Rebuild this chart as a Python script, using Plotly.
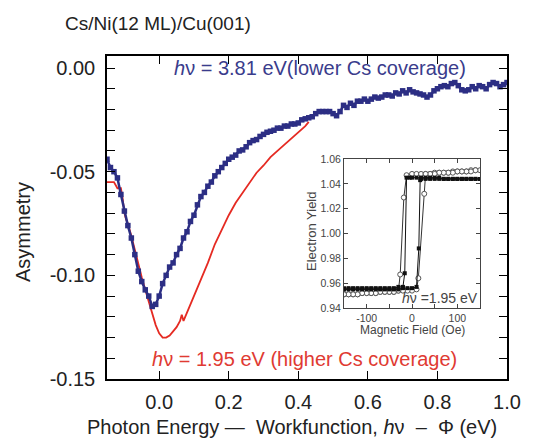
import plotly.graph_objects as go

# ---- main data ----
blue_x = [round(-0.15 + 0.01 * i, 2) for i in range(116)]
blue_y = [-0.044, -0.048, -0.050, -0.053, -0.061, -0.069, -0.076, -0.082, -0.090, -0.098,
          -0.103, -0.107, -0.110, -0.115, -0.114, -0.110, -0.104, -0.100, -0.096, -0.094,
          -0.090, -0.087, -0.082, -0.079, -0.074, -0.071, -0.066, -0.062, -0.060, -0.057,
          -0.055, -0.052, -0.050, -0.048, -0.046, -0.044, -0.043, -0.042, -0.040, -0.0395,
          -0.038, -0.036, -0.035, -0.0345, -0.033, -0.032, -0.031, -0.0305, -0.030, -0.029,
          -0.029, -0.028, -0.028, -0.027, -0.027, -0.0265, -0.025, -0.0245, -0.024, -0.0235,
          -0.022, -0.021, -0.021, -0.021, -0.021, -0.022, -0.023, -0.021, -0.018, -0.019,
          -0.017, -0.018, -0.016, -0.016, -0.015, -0.016, -0.015, -0.014, -0.0145, -0.014,
          -0.013, -0.013, -0.0135, -0.012, -0.0125, -0.011, -0.012, -0.0105, -0.0115, -0.012,
          -0.0125, -0.013, -0.014, -0.013, -0.011, -0.010, -0.009, -0.0085, -0.009, -0.0075,
          -0.007, -0.0085, -0.0105, -0.011, -0.0105, -0.009, -0.010, -0.0085, -0.009, -0.010,
          -0.008, -0.007, -0.0075, -0.009, -0.008, -0.007]

red_x = [-0.15, -0.13, -0.12, -0.11, -0.105, -0.10, -0.095, -0.09, -0.08, -0.07, -0.06,
         -0.05, -0.04, -0.03, -0.02, -0.01, 0.0, 0.01, 0.02, 0.03, 0.04, 0.05, 0.06, 0.065,
         0.07, 0.08, 0.09, 0.10, 0.12, 0.14, 0.16, 0.18, 0.20, 0.22, 0.24, 0.26, 0.28, 0.30,
         0.32, 0.34, 0.36, 0.38, 0.40, 0.42, 0.43]
red_y = [-0.055, -0.055, -0.058, -0.058, -0.063, -0.070, -0.073, -0.075, -0.081, -0.088, -0.095,
         -0.101, -0.107, -0.113, -0.119, -0.124, -0.128, -0.130, -0.130, -0.129, -0.127, -0.125,
         -0.122, -0.119, -0.122, -0.118, -0.114, -0.110, -0.102, -0.094, -0.085, -0.078, -0.071,
         -0.065, -0.060, -0.055, -0.0505, -0.047, -0.043, -0.040, -0.037, -0.034, -0.031,
         -0.028, -0.026]

y_tick_vals = [0.0, -0.05, -0.10, -0.15]
y_tick_text = ["0.00", "-0.05", "-0.10", "-0.15"]
x_tick_vals = [0.0, 0.2, 0.4, 0.6, 0.8, 1.0]
x_tick_text = ["0.0", "0.2", "0.4", "0.6", "0.8", "1.0"]

# ---- inset data ----
filled_x = [-150, -140, -130, -120, -110, -100, -90, -80, -70, -60, -50, -40, -30, -20, -16, -12,
            -5, 0, 10, 20, 30, 40, 50, 60, 70, 80, 90, 100, 110, 120, 130, 140, 150,
            140, 130, 120, 110, 100, 90, 80, 70, 60, 50, 40, 30, 20, 18, 15, 10,
            0, -10, -20, -30, -40, -50, -60, -70, -80, -90, -100, -110, -120, -130, -140, -150]
filled_y = [0.956, 0.956, 0.956, 0.956, 0.956, 0.956, 0.956, 0.956, 0.956, 0.956, 0.956, 0.956, 0.957, 0.957, 0.968, 1.045,
            1.045, 1.045, 1.045, 1.045, 1.045, 1.045, 1.045, 1.045, 1.044, 1.044, 1.044, 1.044, 1.044, 1.044, 1.044, 1.044, 1.044,
            1.044, 1.044, 1.044, 1.044, 1.044, 1.044, 1.044, 1.044, 1.044, 1.044, 1.044, 1.044, 1.044, 1.043, 0.988, 0.957,
            0.956, 0.956, 0.956, 0.955, 0.955, 0.955, 0.955, 0.955, 0.955, 0.955, 0.955, 0.955, 0.955, 0.955, 0.955, 0.955]

open_x = [-150, -140, -130, -120, -110, -100, -90, -80, -70, -60, -50, -40, -30, -26, -18, -12,
          0, 10, 20, 30, 40, 50, 60, 70, 80, 90, 100, 110, 120, 130, 140, 150,
          140, 130, 120, 110, 100, 90, 80, 70, 60, 50, 40, 30, 27, 14, 10,
          0, -10, -20, -30, -40, -50, -60, -70, -80, -90, -100, -110, -120, -130, -140, -150]
open_y = [0.951, 0.951, 0.951, 0.951, 0.952, 0.952, 0.952, 0.952, 0.953, 0.953, 0.953, 0.953, 0.954, 0.967, 1.029, 1.047,
          1.048, 1.048, 1.048, 1.048, 1.048, 1.049, 1.049, 1.049, 1.049, 1.050, 1.050, 1.050, 1.050, 1.051, 1.051, 1.051,
          1.051, 1.050, 1.050, 1.050, 1.050, 1.049, 1.049, 1.049, 1.049, 1.048, 1.048, 1.048, 1.032, 0.964, 0.955,
          0.954, 0.954, 0.954, 0.954, 0.953, 0.953, 0.953, 0.953, 0.952, 0.952, 0.952, 0.952, 0.951, 0.951, 0.951, 0.951]

inset_y_vals = [0.94, 0.96, 0.98, 1.00, 1.02, 1.04, 1.06]
inset_y_text = ["0.94", "0.96", "0.98", "1.00", "1.02", "1.04", "1.06"]
inset_x_vals = [-100, 0, 100]

FONT = "Liberation Sans, Arial, sans-serif"
BLUE = "#2c2e84"
RED = "#e52a22"

fig = go.Figure()

fig.add_trace(go.Scatter(x=red_x, y=red_y, mode="lines",
                         line=dict(color=RED, width=1.8), xaxis="x", yaxis="y"))
fig.add_trace(go.Scatter(x=blue_x, y=blue_y, mode="lines+markers",
                         line=dict(color=BLUE, width=2.5),
                         marker=dict(symbol="square", size=5.5, color=BLUE),
                         xaxis="x", yaxis="y"))

# inset traces
fig.add_trace(go.Scatter(x=open_x, y=open_y, mode="lines+markers",
                         line=dict(color="#333333", width=1),
                         marker=dict(symbol="circle", size=5, color="white",
                                     line=dict(width=1, color="#555555")),
                         xaxis="x2", yaxis="y2"))
fig.add_trace(go.Scatter(x=filled_x, y=filled_y, mode="lines+markers",
                         line=dict(color="#111111", width=1),
                         marker=dict(symbol="square", size=4, color="#111111"),
                         xaxis="x2", yaxis="y2"))

axis_common = dict(showline=True, linecolor="black", linewidth=1.5, mirror="ticks",
                   ticks="inside", ticklen=8, tickcolor="black", tickwidth=1.2,
                   showgrid=False, zeroline=False)

fig.update_layout(
    width=536, height=441,
    margin=dict(l=107, r=29, t=56, b=62),
    paper_bgcolor="white", plot_bgcolor="white",
    showlegend=False,
    font=dict(family=FONT, color="#222222"),
    xaxis=dict(range=[-0.15, 1.0], tickvals=x_tick_vals, ticktext=x_tick_text,
               tickfont=dict(size=20, color="#222222"), domain=[0, 1],
               ticklabelstandoff=4, **axis_common),
    yaxis=dict(range=[-0.15, 0.0058], tickvals=y_tick_vals, ticktext=y_tick_text,
               tickfont=dict(size=20, color="#222222"), domain=[0, 1],
               ticklabelstandoff=6,
               minor=dict(dtick=0.01, tick0=0, ticks="inside", ticklen=8, tickcolor="black", tickwidth=1.2),
               **axis_common),
    xaxis2=dict(range=[-150, 150], tickvals=inset_x_vals, ticktext=["-100", "0", "100"],
                domain=[0.5925, 0.9325], anchor="y2",
                tickfont=dict(size=10.5, color="#444444"),
                minor=dict(dtick=50, tick0=0, ticks="inside", ticklen=4, tickcolor="#444444"),
                showline=True, linecolor="#444444", linewidth=1, mirror="ticks",
                ticks="inside", ticklen=4, tickcolor="#444444", showgrid=False, zeroline=False),
    yaxis2=dict(range=[0.94, 1.06], tickvals=inset_y_vals, ticktext=inset_y_text,
                domain=[0.2198, 0.681], anchor="x2",
                tickfont=dict(size=10.5, color="#444444"),
                showline=True, linecolor="#444444", linewidth=1, mirror="ticks",
                ticks="inside", ticklen=4, tickcolor="#444444", showgrid=False, zeroline=False),
)

annotations = [
    dict(text="Cs/Ni(12 ML)/Cu(001)", xref="paper", yref="paper", x=-0.11, y=1.102,
         xanchor="left", yanchor="middle", showarrow=False, font=dict(size=19, color="#222222")),
    dict(text="Asymmetry", xref="paper", yref="paper", x=-0.21, y=0.455, textangle=-90,
         xanchor="center", yanchor="middle", showarrow=False, font=dict(size=20, color="#222222")),
    dict(text="Photon Energy \u2014  Workfunction, <i>h</i>\u03bd  \u2013  \u03a6 (eV)",
         xref="paper", yref="paper", x=0.4625, y=-0.149,
         xanchor="center", yanchor="middle", showarrow=False, font=dict(size=20, color="#222222")),
    dict(text="<i>h</i>\u03bd = 3.81 eV(lower Cs coverage)", xref="x", yref="y", x=0.462, y=0.0,
         xanchor="center", yanchor="middle", showarrow=False, font=dict(size=20, color="#3a3c8c")),
    dict(text="<i>h</i>\u03bd = 1.95 eV (higher Cs coverage)", xref="x", yref="y", x=0.419, y=-0.1405,
         xanchor="center", yanchor="middle", showarrow=False, font=dict(size=20, color="#e03a32")),
    dict(text="<i>h</i>\u03bd =1.95 eV", xref="x2", yref="y2", x=62, y=0.948,
         xanchor="center", yanchor="middle", showarrow=False, font=dict(size=14, color="#444444")),
    dict(text="Electron Yield", xref="paper", yref="paper", x=(311 - 107) / 400, y=(379 - 231) / 323,
         textangle=-90, xanchor="center", yanchor="middle", showarrow=False,
         font=dict(size=13, color="#444444")),
    dict(text="Magnetic Field (Oe)", xref="paper", yref="paper", x=(412 - 107) / 400, y=(379 - 330) / 323,
         xanchor="center", yanchor="middle", showarrow=False, font=dict(size=12, color="#444444")),
]
fig.update_layout(annotations=annotations)

fig.write_html("out.html")
